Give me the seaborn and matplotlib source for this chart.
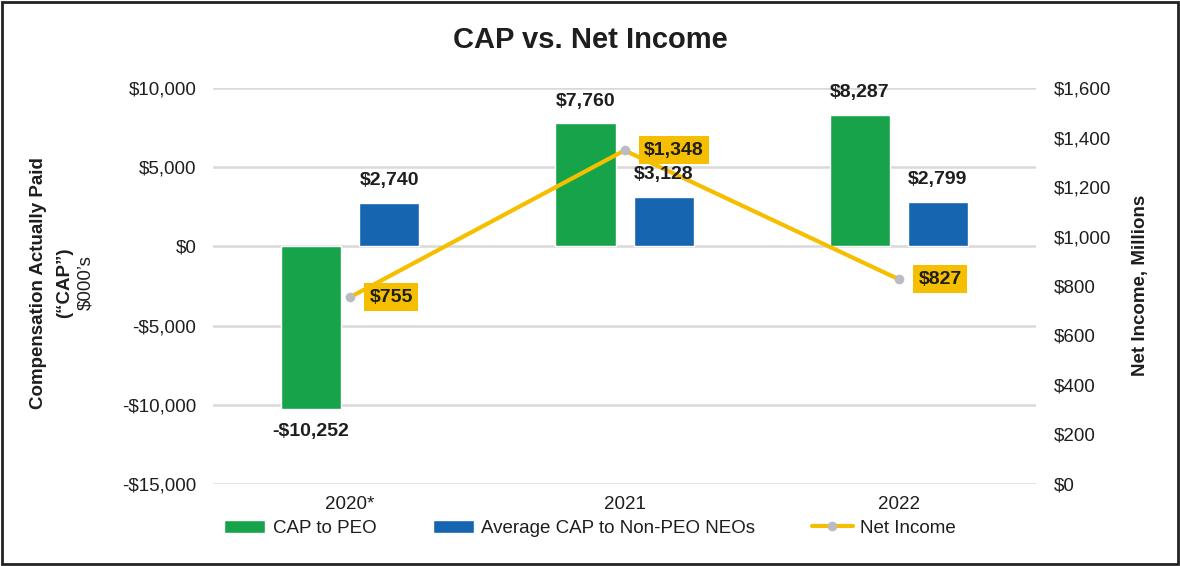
import pandas as pd
import seaborn as sns
import matplotlib.pyplot as plt
from matplotlib.patches import Rectangle

# Chart data
years = ['2020*', '2021', '2022']
cap_peo = [-10252, 7760, 8287]
cap_neo = [2740, 3128, 2799]
net_income = [755, 1348, 827]
left_ticks = [-15000, -10000, -5000, 0, 5000, 10000]
right_ticks = [0, 200, 400, 600, 800, 1000, 1200, 1400, 1600]

GREEN = '#17a34a'
BLUE = '#1565b0'
YELLOW = '#f5bf00'
GREY_DOT = '#bdbac4'
TEXT = '#1e1e1e'


def money(v):
    # -$10,252 style
    return ('-$' if v < 0 else '$') + f'{abs(v):,.0f}'


df = pd.DataFrame({
    'Year': years * 2,
    'CAP': cap_peo + cap_neo,
    'Series': ['CAP to PEO'] * 3 + ['Average CAP to Non-PEO NEOs'] * 3,
})

sns.set_theme(style='white')
plt.rcParams['font.family'] = ['Liberation Sans', 'DejaVu Sans']
plt.rcParams['text.color'] = TEXT

fig = plt.figure(figsize=(11.8, 5.66), dpi=100)
ax = fig.add_axes([0.1805, 0.1449, 0.6975, 0.6996])

sns.barplot(data=df, x='Year', y='CAP', hue='Series',
            palette={'CAP to PEO': GREEN, 'Average CAP to Non-PEO NEOs': BLUE},
            width=0.57, gap=0.23, saturation=1, ax=ax)

ax.set_ylim(-15000, 10000)
ax.set_yticks(left_ticks)
ax.set_yticklabels([money(v) for v in left_ticks])
ax.set_xlim(-0.5, 2.5)
ax.set_xlabel('')
ax.set_ylabel('')
ax.grid(axis='y', color='#d9d9d9', lw=1.8)
ax.set_axisbelow(True)
ax.tick_params(axis='y', length=0, labelsize=13.5, pad=12, labelcolor=TEXT)
ax.tick_params(axis='x', length=0, labelsize=13.5, pad=9, labelcolor=TEXT)
sns.despine(ax=ax, left=True, bottom=True)

# Net income line on the right axis
ax2 = ax.twinx()
sns.lineplot(x=years, y=net_income, ax=ax2, color=YELLOW, lw=3, sort=False,
             marker='o', markersize=7, markerfacecolor=GREY_DOT,
             markeredgewidth=0, label='Net Income', zorder=2)
for i, v in enumerate(net_income):
    ax2.annotate(money(v), xy=(i, v), xytext=(14, 0), textcoords='offset points',
                 ha='left', va='center', fontsize=14, fontweight='bold', color=TEXT,
                 bbox=dict(boxstyle='square,pad=0.28', fc=YELLOW, ec='none'))

# bar value labels drawn on ax2 so they sit above the line
for cont in ax.containers:
    for bar, v in zip(cont, cont.datavalues):
        cx = bar.get_x() + bar.get_width() / 2
        ax2.annotate(money(v), xy=(cx, v), xycoords=ax.transData,
                     xytext=(0, 10 if v >= 0 else -10), textcoords='offset points',
                     ha='center', va='bottom' if v >= 0 else 'top',
                     fontsize=14, fontweight='bold', color=TEXT, zorder=5)

ax2.set_ylim(0, 1600)
ax2.set_yticks(right_ticks)
ax2.set_yticklabels([money(v) for v in right_ticks])
ax2.grid(False)
ax2.set_ylabel('')
ax2.tick_params(axis='y', length=0, labelsize=13.5, pad=13, labelcolor=TEXT)
sns.despine(ax=ax2, left=True, bottom=True, right=True)

# legend below, combined
h1, l1 = ax.get_legend_handles_labels()
h2, l2 = ax2.get_legend_handles_labels()
for a in (ax, ax2):
    if a.get_legend() is not None:
        a.get_legend().remove()
fig.legend(h1 + h2, l1 + l2, loc='center', bbox_to_anchor=(0.5, 0.067), ncol=3,
           frameon=False, fontsize=13.5, handlelength=2.2, handleheight=0.7,
           handletextpad=0.4, columnspacing=3.0)

# titles and axis labels
fig.text(0.5, 0.929, 'CAP vs. Net Income', ha='center', va='center',
         fontsize=21, fontweight='bold')
fig.text(39 / 1180, 0.5, 'Compensation Actually Paid', rotation=90,
         ha='center', va='center', fontsize=13.5, fontweight='bold')
fig.text(65 / 1180, 0.5, '(\u201cCAP\u201d)', rotation=90,
         ha='center', va='center', fontsize=13.5, fontweight='bold')
fig.text(86 / 1180, 0.5, '$000\u2019s', rotation=90,
         ha='center', va='center', fontsize=13.5)
fig.text(1140 / 1180, 0.495, 'Net Income, Millions', rotation=90,
         ha='center', va='center', fontsize=13.5, fontweight='bold')

# outer frame
fig.patches.append(Rectangle((0.002, 0.003), 0.996, 0.994, transform=fig.transFigure,
                             fill=False, lw=2, ec='#222222'))

fig.savefig('out.png', dpi=100)
